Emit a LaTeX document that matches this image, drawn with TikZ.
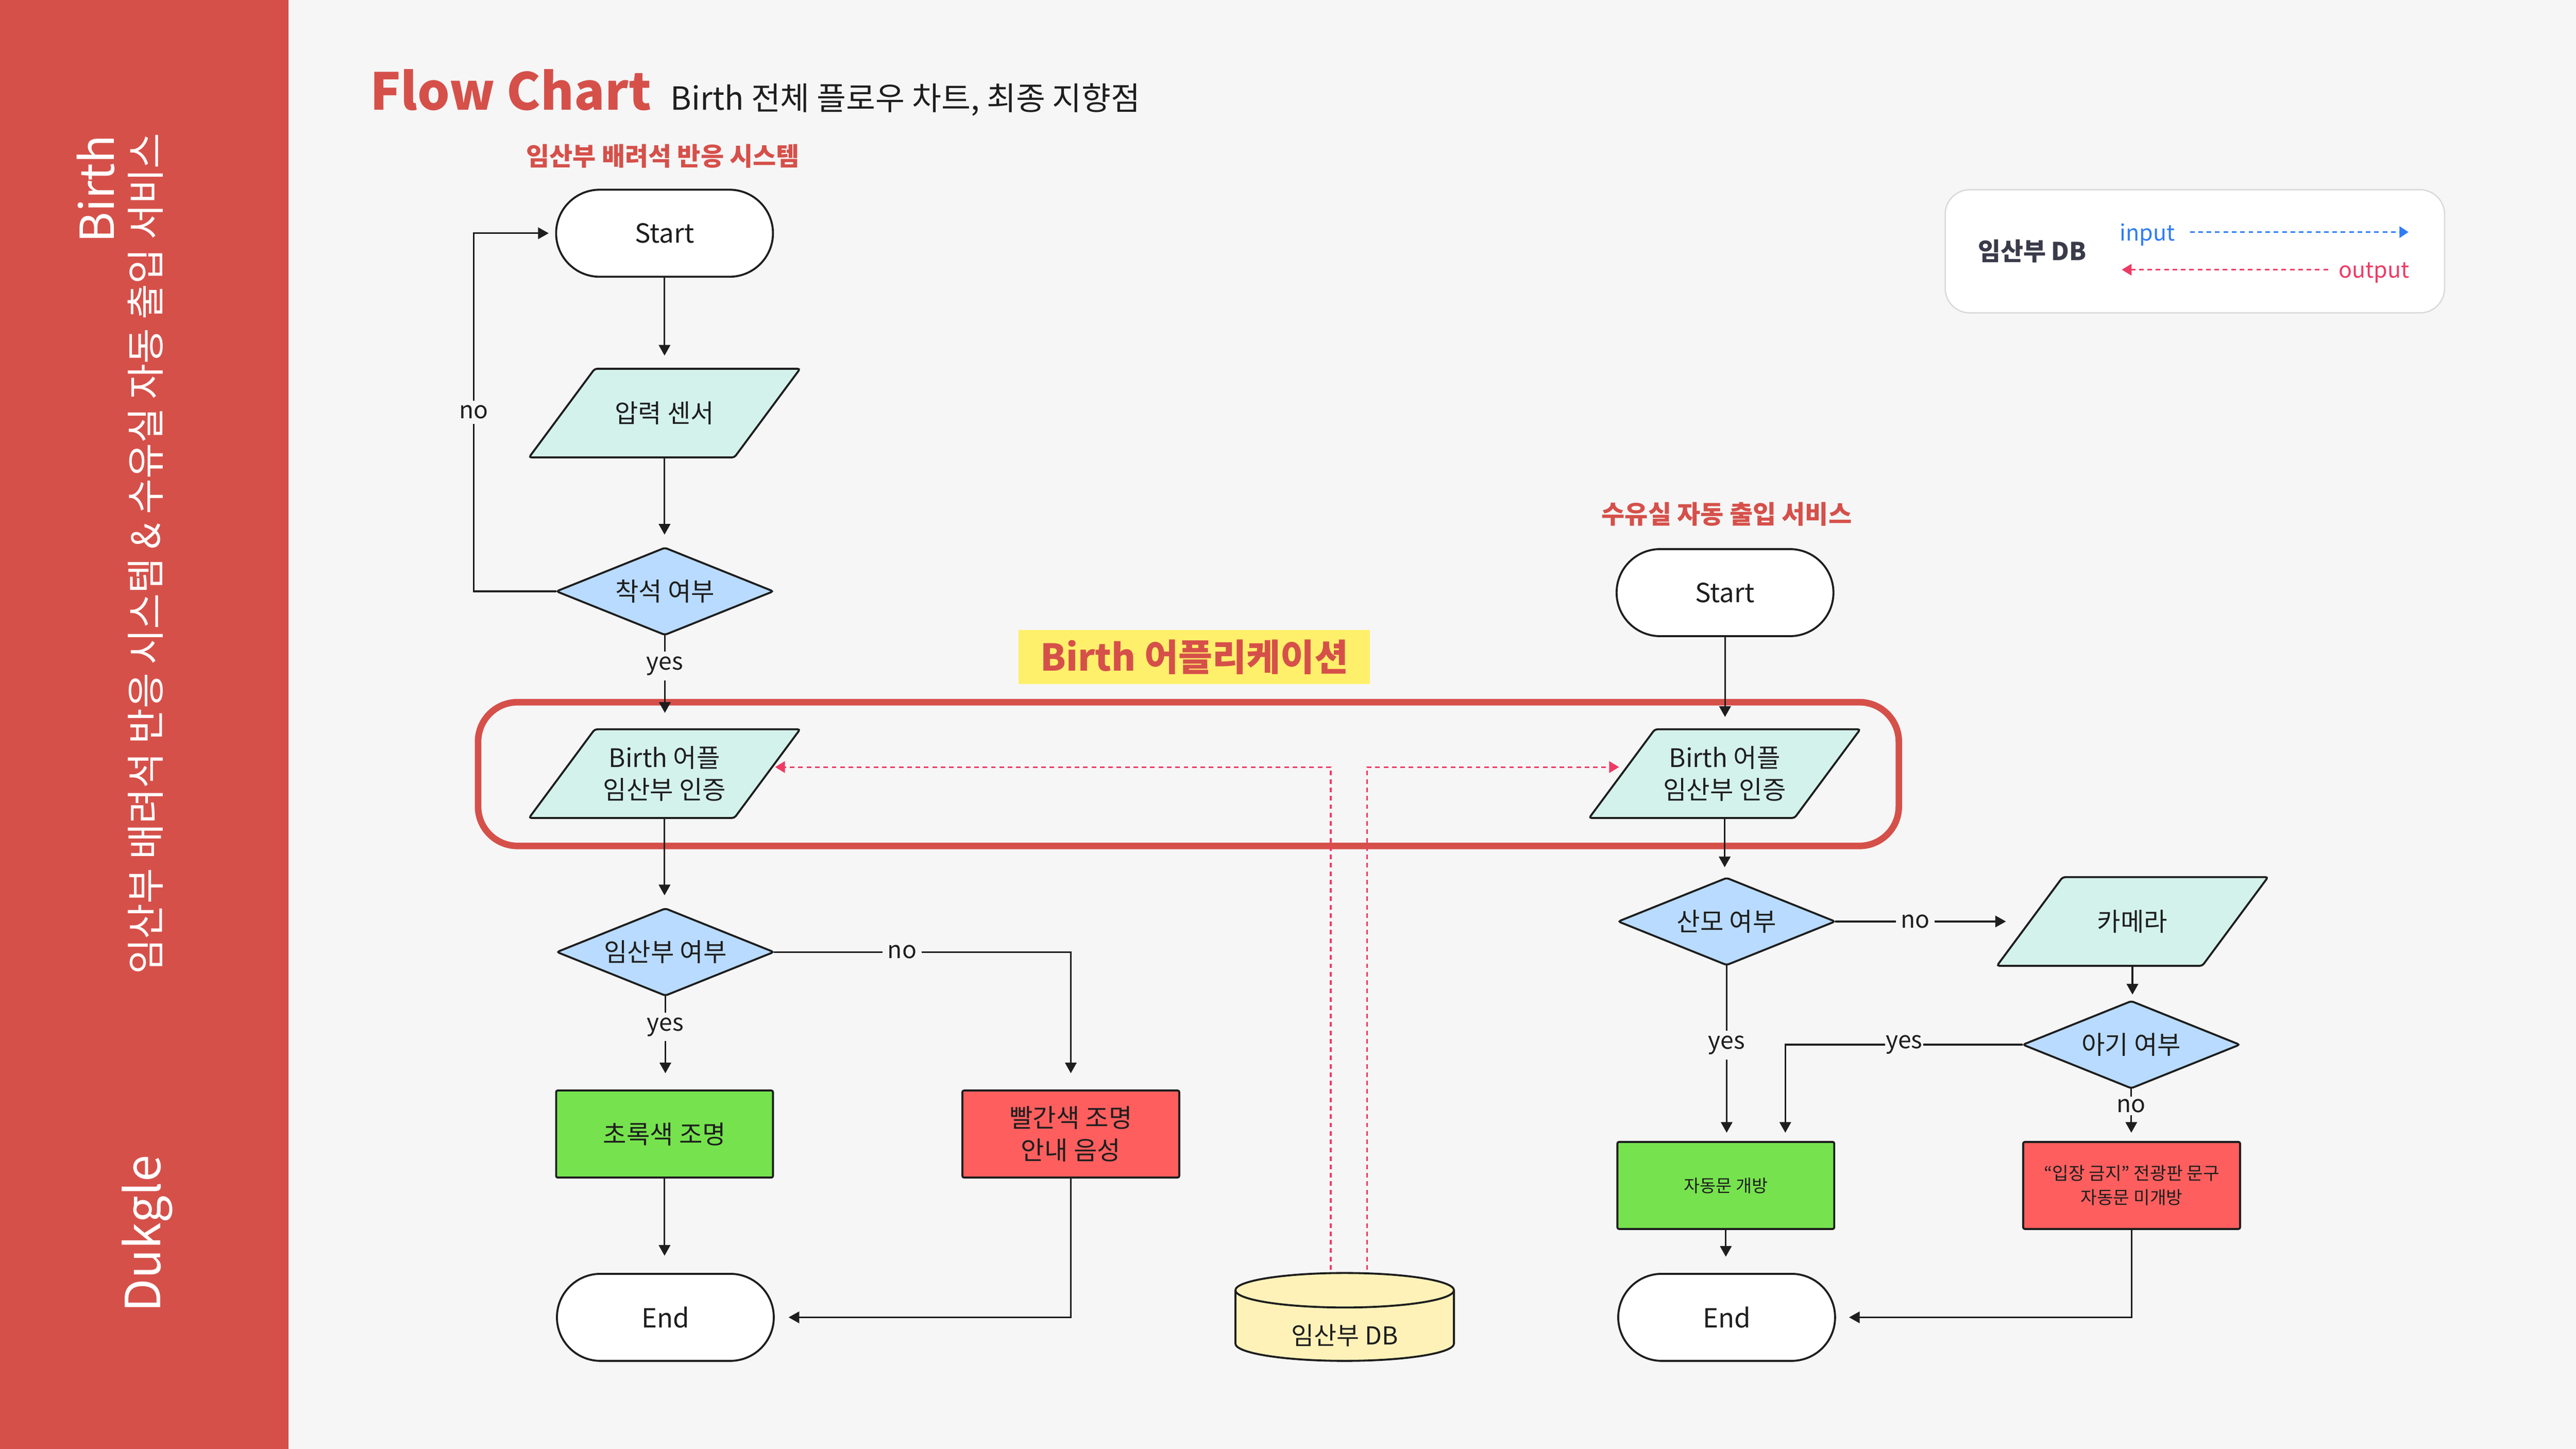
\documentclass[tikz,border=0pt]{standalone}
\usepackage{fontspec}
\setmainfont{Noto Sans CJK KR}
\usetikzlibrary{shapes.geometric,arrows.meta,calc}
\definecolor{bg}{HTML}{F6F6F6}
\definecolor{brand}{HTML}{D6504A}
\definecolor{ink}{HTML}{1E1E1E}
\definecolor{mint}{HTML}{D4F2EC}
\definecolor{lblue}{HTML}{B8DBFF}
\definecolor{okgreen}{HTML}{76E34E}
\definecolor{alarm}{HTML}{FF5E5E}
\definecolor{dbyellow}{HTML}{FFF2B8}
\definecolor{hilite}{HTML}{FFF06B}
\definecolor{outpink}{HTML}{EE3B65}
\definecolor{inblue}{HTML}{2F7DF6}
\definecolor{legline}{HTML}{D9D9D9}
\definecolor{legtext}{HTML}{3A3B4A}
\newcommand\fsz[2]{\fontsize{#1pt}{#2pt}\selectfont}
\pgfdeclarelayer{backdrop}
\pgfdeclarelayer{shapesl}
\pgfsetlayers{backdrop,shapesl,main}
\newcommand\paraof[1]{\begin{pgfonlayer}{shapesl}\filldraw[fill=mint, draw=ink, line width=1.2pt, rounded corners=1.5pt] ([xshift=-40pt]#1.south west) -- (#1.north west) -- ([xshift=40pt]#1.north east) -- (#1.south east) -- cycle;\end{pgfonlayer}}
\begin{document}
\begin{tikzpicture}[x=1pt,y=-1pt,
  base/.style={draw=ink, line width=1.2pt, text=ink, align=center, inner sep=0pt, outer sep=0pt, font=\fsz{15.5}{19.5}},
  term/.style={base, fill=white, rounded corners=26.5pt, minimum width=132pt, minimum height=53pt, font=\fsz{16}{19.5}},
  io/.style={base, draw=none, minimum width=85pt, minimum height=54pt},
  dec/.style={base, fill=lblue, diamond, aspect=2.5, minimum width=132pt, minimum height=53pt, rounded corners=1.5pt},
  proc/.style={base, minimum width=132pt, minimum height=53pt, rounded corners=1pt},
  arr/.style={draw=ink, line width=1pt, -{Triangle[length=6.5pt,width=7pt]}, shorten >=8pt},
  lbl/.style={fill=bg, text=ink, inner sep=3pt, font=\fsz{14.5}{17}},
  outarr/.style={draw=outpink, line width=1pt, dash pattern=on 2.8pt off 2.3pt, -{Triangle[length=6pt,width=7pt]}},
  inarr/.style={draw=inblue, line width=1pt, dash pattern=on 2.8pt off 2.3pt, -{Triangle[length=5.5pt,width=7pt]}},
  sect/.style={text=brand, font=\bfseries\fsz{15.4}{18}, inner sep=0pt}
]
\useasboundingbox (0,0) rectangle (1568,882);
\begin{pgfonlayer}{backdrop}
\fill[bg] (0,0) rectangle (1568,882);
\fill[brand] (0,0) rectangle (175.5,882);
\end{pgfonlayer}

% sidebar
\node[rotate=90, anchor=base east, text=white, font=\fsz{28.5}{32}, inner sep=0pt] (sb1) at (69.4,82) {Birth};
\node[rotate=90, anchor=base east, text=white, font=\fsz{23.5}{26}, inner sep=0pt] (sb2) at (97.5,81) {임산부 배려석 반응 시스템 \& 수유실 자동 출입 서비스};
\node[rotate=90, anchor=base west, text=white, font=\fsz{29.5}{32}, inner sep=0pt] (sb3) at (97.8,799) {Dukgle};

% titles
\node[anchor=base west, text=brand, font=\bfseries\fsz{31}{36}, inner sep=0pt] (title) at (225,67) {Flow Chart};
\node[anchor=base west, text=ink, font=\fsz{19.4}{22}, inner sep=0pt] (subtitle) at (408,67) {Birth 전체 플로우 차트, 최종 지향점};
\node[sect] (sec1) at (403.5,95) {임산부 배려석 반응 시스템};
\node[sect] (sec2) at (1051,313) {수유실 자동 출입 서비스};

% legend
\node[draw=legline, line width=0.8pt, fill=white, rounded corners=15pt, minimum width=304pt, minimum height=75pt, inner sep=0pt] (legend) at (1336,153) {};
\node[text=legtext, font=\bfseries\fsz{15}{18}, inner sep=0pt] (legdb) at (1237,153) {임산부 DB};
\node[text=inblue, font=\fsz{13.5}{16}, inner sep=0pt] (inlbl) at (1307,143) {input};
\node[text=outpink, font=\fsz{13.5}{16}, inner sep=0pt] (outlbl) at (1445,166) {output};
\coordinate (instart) at (1333,141.3);
\coordinate (inend) at (1466,141.3);
\coordinate (outstart) at (1417,164.2);
\coordinate (outend) at (1291.5,164.2);
\draw[inarr] (instart) -- (inend);
\draw[outarr] (outstart) -- (outend);

% application frame
\draw[brand, line width=4pt, rounded corners=24pt] (291,427.5) rectangle (1155.8,515);
\node[fill=hilite, text=brand, font=\bfseries\fsz{22.5}{26}, minimum width=214pt, minimum height=33pt, inner sep=0pt] (applbl) at (727,400.1) {Birth 어플리케이션};

% left flow
\node[term] (s1) at (404.5,142) {Start};
\node[io] (p1) at (404.5,251.5) {압력 센서}; \paraof{p1}
\node[dec] (d1) at (404.7,360) {착석 여부};
\node[io] (a1) at (404.5,471) {Birth 어플\\임산부 인증}; \paraof{a1}
\node[dec] (d2) at (405,579.6) {임산부 여부};
\node[proc, fill=okgreen] (g1) at (404.5,690.4) {초록색 조명};
\node[proc, fill=alarm] (r1) at (651.8,690.4) {빨간색 조명\\안내 음성};
\node[term] (e1) at (405,802) {End};

% right flow
\node[term] (s2) at (1050,360.8) {Start};
\node[io] (a2) at (1049.8,471) {Birth 어플\\임산부 인증}; \paraof{a2}
\node[dec] (d3) at (1051,561) {산모 여부};
\node[io] (cam) at (1298,561) {카메라}; \paraof{cam}
\node[dec] (d4) at (1297.3,636) {아기 여부};
\node[proc, fill=okgreen, font=\fsz{10.6}{14.6}] (g2) at (1050.5,721.7) {자동문 개방};
\node[proc, fill=alarm, font=\fsz{10.8}{14.6}] (r2) at (1297.5,721.7) {“입장 금지” 전광판 문구\\자동문 미개방};
\node[term] (e2) at (1051,802) {End};

% database
\fill[dbyellow] (752,785.5) -- (752,818) arc[start angle=180, end angle=0, x radius=66.5, y radius=10.5] -- (885,785.5) -- cycle;
\fill[dbyellow] (818.5,785.5) ellipse [x radius=66.5, y radius=10.5];
\draw[ink, line width=1.2pt] (752,785.5) -- (752,818) arc[start angle=180, end angle=0, x radius=66.5, y radius=10.5] -- (885,785.5);
\draw[ink, line width=1.2pt] (818.5,785.5) ellipse [x radius=66.5, y radius=10.5];
\node[text=ink, font=\fsz{15}{18}, inner sep=0pt] (db) at (818.5,813) {임산부 DB};
\coordinate (dbtop) at (818.5,773);

% left connectors
\draw[arr] (s1.south) -- (s1.south |- p1.north);
\draw[arr] (p1.south) -- (p1.south |- d1.north);
\draw[arr, shorten >=4.5pt] (d1.west) -- ++(-50.4,0) |- node[lbl, pos=0.25] {no} (s1.west);
\draw[arr, shorten >=10pt] (d1.south) -- node[lbl, pos=0.33] {yes} (d1.south |- a1.north);
\draw[arr] (a1.south) -- (a1.south |- d2.north);
\draw[arr, shorten >=10.5pt] (d2.east) -| node[lbl, pos=0.216] {no} (r1.north);
\draw[arr, shorten >=10.5pt] (d2.south) -- node[lbl, pos=0.33] {yes} (d2.south |- g1.north);
\draw[arr, shorten >=11pt] (g1.south) -- (g1.south |- e1.north);
\draw[arr, shorten >=9pt] (r1.south) |- (e1.east);

% right connectors
\draw[arr, shorten >=7.5pt] (s2.south) -- (s2.south |- a2.north);
\draw[arr, shorten >=6.5pt] (a2.south) -- (a2.south |- d3.north);
\draw[arr, shorten >=0pt] (d3.east) -- node[lbl, pos=0.47] {no} ([xshift=-34.5pt]cam.west);
\draw[arr, shorten >=4pt] (cam.south) -- (cam.south |- d4.north);
\draw[arr, shorten >=5.6pt] (d4.west) -| node[lbl, pos=0.25, inner sep=0.5pt] {yes} ([xshift=36.2pt]g2.north);
\draw[arr, shorten >=5.6pt] (d3.south) -- node[lbl, pos=0.454] {yes} (d3.south |- g2.north);
\draw[arr, shorten >=5.6pt] (d4.south) -- node[lbl, pos=0.33, inner sep=1.5pt] {no} (d4.south |- r2.north);
\draw[arr, shorten >=10.4pt] (g2.south) -- (g2.south |- e2.north);
\draw[arr, shorten >=8.5pt] (r2.south) |- (e2.east);

% database links
\draw[outarr] ([xshift=-8.5pt]dbtop) |- ([xshift=24.8pt,yshift=4pt]a1.east);
\draw[outarr] ([xshift=13.5pt]dbtop) |- ([xshift=-21.8pt,yshift=4pt]a2.west);
\end{tikzpicture}
\end{document}
